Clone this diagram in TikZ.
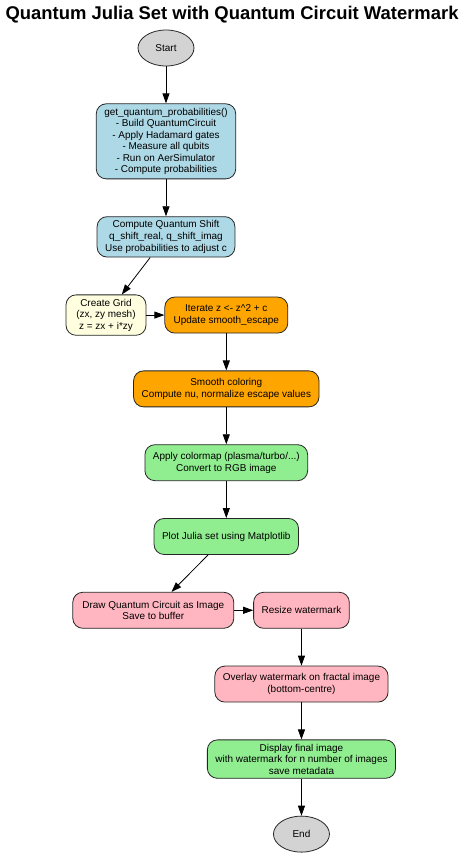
\documentclass[tikz,border=0pt]{standalone}
\usepackage{fontspec}
\setmainfont{Liberation Sans}
\usepackage{tikz}
\usetikzlibrary{arrows.meta, shapes, positioning, calc}

\definecolor{qblue}{HTML}{ADD8E6}
\definecolor{qyellow}{HTML}{FFFFE0}
\definecolor{qorange}{HTML}{FFA500}
\definecolor{qgreen}{HTML}{90EE90}
\definecolor{qpink}{HTML}{FFB6C1}
\definecolor{qgrey}{HTML}{D3D3D3}

\begin{document}
\begin{tikzpicture}
            [x=1bp, y=-1bp, ->, >={Triangle[length=10bp,width=7bp]}, node distance=37bp, line width=0.8bp,
            flow/.style={rectangle, rounded corners=10bp, align=center, draw=black!85, inner xsep=8bp, inner ysep=4bp,
                minimum height=36bp, minimum width=54bp, font=\fontsize{10}{11.6}\selectfont},
            term/.style={ellipse, draw=black!85, fill=qgrey, inner sep=0pt, minimum width=56bp, minimum height=36bp,
                font=\fontsize{10}{11.6}\selectfont}]

            \useasboundingbox (0,0) rectangle (465,861);

            \node (title) at (232,15) {\fontsize{18.5}{22}\selectfont\bfseries Quantum Julia Set with Quantum Circuit Watermark};

            \node[term] (start) at (166,48) {Start};
            \node[flow,fill=qblue] (probs) [below = of start] {get\_quantum\_probabilities()\\- Build QuantumCircuit\\- Apply Hadamard gates\\- Measure all qubits\\- Run on AerSimulator\\- Compute probabilities};
            \node[flow,fill=qblue] (shift) [below = of probs] {Compute Quantum Shift\\q\_shift\_real, q\_shift\_imag\\Use probabilities to adjust c};
            \node[flow,fill=qyellow,minimum width=80bp] (grid) [below = of shift, xshift=-60bp] {Create Grid\\(zx, zy mesh)\\z = zx + i*zy};
            \node[flow,fill=qorange,minimum width=123bp] (iter) [right = 18bp of grid] {Iterate z <- z\^{}2 + c\\Update smooth\_escape};
            \node[flow,fill=qorange] (smooth) [below = of iter] {Smooth coloring\\Compute nu, normalize escape values};
            \node[flow,fill=qgreen] (cmap) [below = of smooth] {Apply colormap (plasma/turbo/...)\\Convert to RGB image};
            \node[flow,fill=qgreen] (plot) [below = of cmap] {Plot Julia set using Matplotlib};
            \node[flow,fill=qpink,minimum width=161bp] (circ) [below = of plot, xshift=-73bp] {Draw Quantum Circuit as Image\\Save to buffer};
            \node[flow,fill=qpink] (resize) [right = 19bp of circ] {Resize watermark};
            \node[flow,fill=qpink] (overlay) [below = of resize] {Overlay watermark on fractal image\\(bottom-centre)};
            \node[flow,fill=qgreen] (final) [below = of overlay] {Display final image\\with watermark for n number of images\\save metadata};
            \node[term] (end) [below = of final] {End};

            \draw (start) edge (probs);
            \draw (probs) edge (shift);
            \draw (shift) edge (grid);
            \draw (grid) edge (iter);
            \draw (iter) edge (smooth);
            \draw (smooth) edge (cmap);
            \draw (cmap) edge (plot);
            \draw (plot) edge (circ);
            \draw (circ) edge (resize);
            \draw (resize) edge (overlay);
            \draw (overlay) edge (final);
            \draw (final) edge (end);
        \end{tikzpicture}
\end{document}
